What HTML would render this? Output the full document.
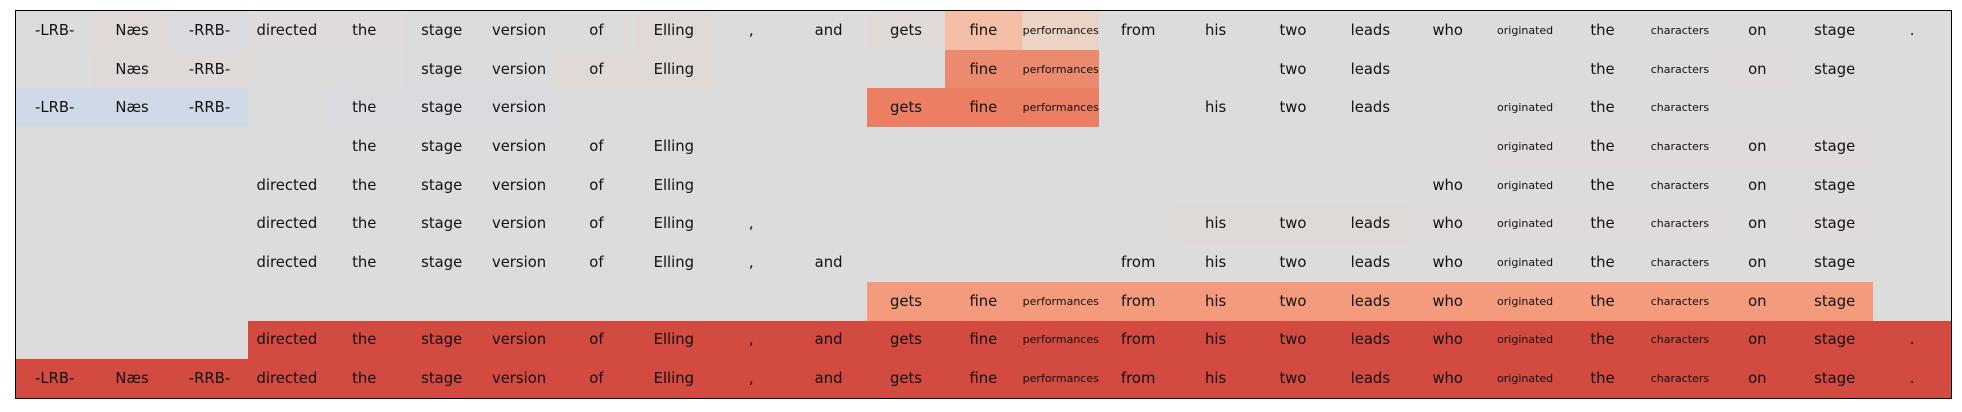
<!DOCTYPE html>
<html><head><meta charset="utf-8">
<style>
html,body{margin:0;padding:0;background:#fff;width:1962px;height:412px;overflow:hidden}
table{position:absolute;left:15px;top:10px;border-collapse:collapse;table-layout:fixed;width:1935px;border:1.5px solid #000;background:#dddcdc;font-family:"DejaVu Sans","Liberation Sans",sans-serif;font-size:14.8px;color:#111}
td{width:77.4px;height:38.7px;padding:0;text-align:center;vertical-align:middle;white-space:nowrap;overflow:visible}
.s{font-size:11px}
.b1{background:#d0d9e7}.b2{background:#d9dbe0}.b3{background:#dadbdd}
.p1{background:#e1d9d6}.p2{background:#dfdad8}.p3{background:#dfdbda}
.f1{background:#f4bfa6}.f2{background:#ebd3c5}.f3{background:#ec8a6f}.f4{background:#ec7f63}
.o{background:#f39b7c}.r{background:#d24a40}
</style></head><body>
<table>
<tr><td class="b3">-LRB-</td><td class="p1">Næs</td><td class="b2">-RRB-</td><td class="p3">directed</td><td class="p3">the</td><td class="b3">stage</td><td class="b3">version</td><td>of</td><td class="p1">Elling</td><td>,</td><td>and</td><td class="p1">gets</td><td class="f1">fine</td><td class="f2 s">performances</td><td>from</td><td>his</td><td>two</td><td>leads</td><td>who</td><td class="s">originated</td><td>the</td><td class="s">characters</td><td>on</td><td>stage</td><td>.</td></tr>
<tr><td></td><td class="p2">Næs</td><td class="p2">-RRB-</td><td></td><td></td><td class="b3">stage</td><td class="b3">version</td><td class="p1">of</td><td class="p1">Elling</td><td></td><td></td><td></td><td class="f3">fine</td><td class="f3 s">performances</td><td></td><td></td><td>two</td><td>leads</td><td></td><td></td><td>the</td><td class="s">characters</td><td class="p3">on</td><td>stage</td><td></td></tr>
<tr><td class="b1">-LRB-</td><td class="b1">Næs</td><td class="b1">-RRB-</td><td></td><td class="b2">the</td><td class="b2">stage</td><td class="b2">version</td><td></td><td></td><td></td><td></td><td class="f4">gets</td><td class="f4">fine</td><td class="f4 s">performances</td><td></td><td>his</td><td>two</td><td>leads</td><td></td><td class="s">originated</td><td>the</td><td class="s">characters</td><td></td><td></td><td></td></tr>
<tr><td></td><td></td><td></td><td></td><td>the</td><td>stage</td><td>version</td><td>of</td><td>Elling</td><td></td><td></td><td></td><td></td><td></td><td></td><td></td><td></td><td></td><td></td><td class="p3 s">originated</td><td class="p3">the</td><td class="p3 s">characters</td><td class="p3">on</td><td class="p3">stage</td><td></td></tr>
<tr><td></td><td></td><td></td><td>directed</td><td>the</td><td>stage</td><td>version</td><td>of</td><td>Elling</td><td></td><td></td><td></td><td></td><td></td><td></td><td></td><td></td><td></td><td>who</td><td class="s">originated</td><td>the</td><td class="s">characters</td><td>on</td><td>stage</td><td></td></tr>
<tr><td></td><td></td><td></td><td>directed</td><td>the</td><td>stage</td><td>version</td><td>of</td><td>Elling</td><td>,</td><td></td><td></td><td></td><td></td><td></td><td class="p2">his</td><td class="p2">two</td><td class="p2">leads</td><td class="p3">who</td><td class="p3 s">originated</td><td class="p3">the</td><td class="p3 s">characters</td><td>on</td><td class="p3">stage</td><td></td></tr>
<tr><td></td><td></td><td></td><td>directed</td><td>the</td><td>stage</td><td>version</td><td>of</td><td>Elling</td><td>,</td><td>and</td><td></td><td></td><td></td><td>from</td><td>his</td><td>two</td><td>leads</td><td>who</td><td class="s">originated</td><td>the</td><td class="s">characters</td><td>on</td><td>stage</td><td></td></tr>
<tr><td></td><td></td><td></td><td></td><td></td><td></td><td></td><td></td><td></td><td></td><td></td><td class="o">gets</td><td class="o">fine</td><td class="o s">performances</td><td class="o">from</td><td class="o">his</td><td class="o">two</td><td class="o">leads</td><td class="o">who</td><td class="o s">originated</td><td class="o">the</td><td class="o s">characters</td><td class="o">on</td><td class="o">stage</td><td></td></tr>
<tr><td></td><td></td><td></td><td class="r">directed</td><td class="r">the</td><td class="r">stage</td><td class="r">version</td><td class="r">of</td><td class="r">Elling</td><td class="r">,</td><td class="r">and</td><td class="r">gets</td><td class="r">fine</td><td class="r s">performances</td><td class="r">from</td><td class="r">his</td><td class="r">two</td><td class="r">leads</td><td class="r">who</td><td class="r s">originated</td><td class="r">the</td><td class="r s">characters</td><td class="r">on</td><td class="r">stage</td><td class="r">.</td></tr>
<tr><td class="r">-LRB-</td><td class="r">Næs</td><td class="r">-RRB-</td><td class="r">directed</td><td class="r">the</td><td class="r">stage</td><td class="r">version</td><td class="r">of</td><td class="r">Elling</td><td class="r">,</td><td class="r">and</td><td class="r">gets</td><td class="r">fine</td><td class="r s">performances</td><td class="r">from</td><td class="r">his</td><td class="r">two</td><td class="r">leads</td><td class="r">who</td><td class="r s">originated</td><td class="r">the</td><td class="r s">characters</td><td class="r">on</td><td class="r">stage</td><td class="r">.</td></tr>
</table>
</body></html>
